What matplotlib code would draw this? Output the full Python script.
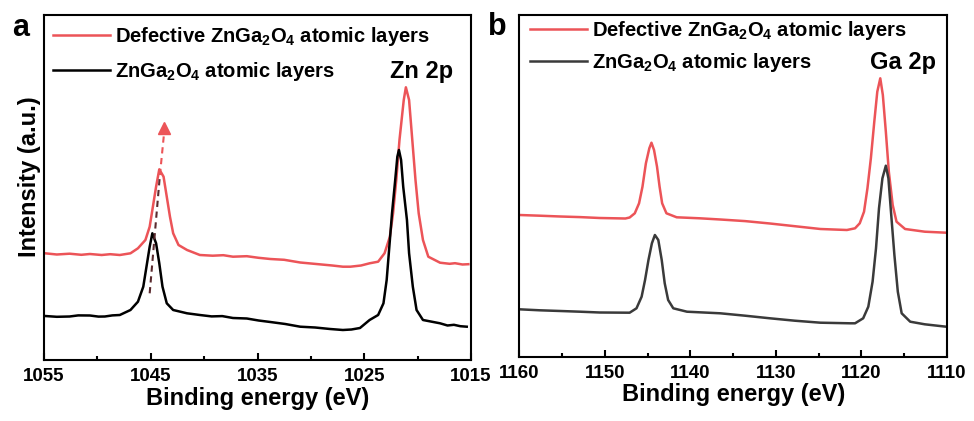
import matplotlib.pyplot as plt
from matplotlib.ticker import MultipleLocator

plt.rcParams['font.family'] = ['Liberation Sans', 'DejaVu Sans']
plt.rcParams['font.weight'] = 'bold'
plt.rcParams['mathtext.fontset'] = 'custom'
plt.rcParams['mathtext.rm'] = 'Liberation Sans:bold'
plt.rcParams['mathtext.it'] = 'Liberation Sans:bold'
plt.rcParams['mathtext.bf'] = 'Liberation Sans:bold'
plt.rcParams['axes.linewidth'] = 1.5

# Zn 2p spectra (binding energy in eV, intensity in a.u.)
zn_be_def = [1054.9, 1053.8, 1052.6, 1051.5, 1050.7, 1049.6, 1048.8, 1047.9, 1046.9, 1046.2,
             1045.5, 1045.1, 1044.8, 1044.5, 1044.2, 1043.8, 1043.5, 1043.2, 1042.9, 1042.4,
             1041.6, 1040.4, 1039.2, 1038.2, 1037.3, 1036.0, 1034.9, 1033.8, 1032.5, 1031.0,
             1029.5, 1028.0, 1027.0, 1026.3, 1025.3, 1024.5, 1023.7, 1023.1, 1022.6, 1022.3,
             1022.0, 1021.7, 1021.3, 1021.1, 1020.8, 1020.5, 1020.2, 1019.9, 1019.5, 1019.0,
             1017.9, 1017.0, 1016.5, 1015.8, 1015.25]
zn_int_def = [106.7, 105.5, 106.3, 105.2, 106.0, 105.0, 105.8, 105.0, 106.7, 111.7,
              120.0, 133.3, 153.3, 173.3, 190.7, 183.3, 163.3, 143.3, 126.7, 115.0,
              110.0, 105.0, 104.3, 104.8, 103.3, 103.8, 102.2, 101.0, 100.2, 97.5,
              96.0, 94.5, 93.3, 93.3, 94.5, 96.7, 98.3, 106.7, 123.3, 146.7,
              180.0, 220.0, 260.0, 272.7, 260.0, 220.0, 180.0, 146.7, 120.0, 103.3,
              97.3, 96.2, 96.8, 95.5, 95.8]

zn_be_pure = [1054.9, 1053.8, 1052.6, 1051.8, 1050.7, 1049.9, 1049.3, 1048.6, 1047.9, 1046.9,
              1046.2, 1045.7, 1045.4, 1045.1, 1044.85, 1044.5, 1044.2, 1043.9, 1043.5, 1042.9,
              1041.6, 1040.4, 1039.3, 1038.3, 1037.3, 1036.0, 1034.9, 1033.8, 1032.4, 1031.0,
              1029.6, 1028.2, 1027.0, 1026.2, 1025.4, 1024.5, 1023.7, 1023.2, 1022.9, 1022.65,
              1022.4, 1022.1, 1021.9, 1021.75, 1021.55, 1021.35, 1021.0, 1020.8, 1020.45, 1020.1,
              1019.5, 1017.9, 1017.2, 1016.6, 1016.0, 1015.4]
zn_int_pure = [44.0, 43.2, 43.5, 44.6, 44.5, 43.4, 43.5, 44.6, 45.0, 50.0,
               58.3, 73.3, 93.3, 113.3, 126.7, 116.7, 96.7, 73.3, 56.7, 50.0,
               46.7, 45.0, 43.6, 43.9, 42.0, 41.5, 39.5, 38.0, 36.0, 33.3,
               32.5, 31.0, 30.0, 30.5, 32.0, 40.0, 45.0, 56.7, 80.0, 113.3,
               146.7, 180.0, 203.3, 210.0, 200.0, 173.3, 140.0, 106.7, 73.3, 50.0,
               40.0, 36.7, 34.5, 35.2, 33.8, 33.3]

# Ga 2p spectra
ga_be_def = [1160.0, 1157.6, 1155.2, 1152.9, 1150.6, 1147.6, 1147.1, 1146.5, 1146.0, 1145.6,
             1145.2, 1144.8, 1144.55, 1144.25, 1143.9, 1143.6, 1143.3, 1142.8, 1141.6, 1138.9,
             1136.5, 1133.6, 1130.7, 1127.8, 1124.8, 1121.7, 1120.75, 1120.2, 1119.7, 1119.3,
             1118.9, 1118.5, 1118.15, 1117.8, 1117.5, 1117.15, 1116.8, 1116.35, 1115.9, 1114.9,
             1112.6, 1110.1]
ga_int_def = [141.7, 141.0, 140.2, 139.6, 138.7, 138.2, 139.2, 143.4, 153.4, 170.0,
              193.4, 208.4, 214.0, 206.7, 190.0, 170.0, 153.4, 143.4, 139.4, 138.4,
              137.2, 135.6, 133.2, 130.5, 127.7, 126.7, 128.4, 133.4, 145.0, 168.4,
              198.4, 235.0, 265.0, 278.4, 261.7, 225.0, 185.0, 151.7, 135.0, 127.7,
              125.0, 124.0]

ga_be_pure = [1160.0, 1157.6, 1155.2, 1152.9, 1150.6, 1147.1, 1146.3, 1145.7, 1145.3, 1144.9,
              1144.5, 1144.15, 1143.75, 1143.35, 1143.0, 1142.6, 1142.0, 1140.4, 1136.5, 1133.6,
              1130.7, 1127.8, 1124.8, 1121.3, 1120.75, 1119.8, 1119.2, 1118.7, 1118.3, 1117.95,
              1117.55, 1117.15, 1116.85, 1116.55, 1116.15, 1115.75, 1115.3, 1114.3, 1112.6, 1110.1]
ga_int_pure = [47.4, 46.4, 45.7, 45.0, 44.2, 44.0, 48.4, 60.0, 76.7, 96.7,
               113.4, 121.7, 116.7, 96.7, 73.4, 56.7, 48.4, 45.0, 43.4, 41.0,
               38.4, 36.0, 34.0, 33.4, 33.4, 38.4, 50.0, 75.0, 108.4, 148.4,
               178.4, 191.0, 178.4, 145.0, 101.7, 65.0, 43.4, 35.0, 32.4, 30.0]

# shift guide between the two Zn 2p3/2 peaks
shift_be = [1045.1, 1043.76]
shift_int = [66.7, 232.0]

zn_ticks = [1055, 1045, 1035, 1025, 1015]
ga_ticks = [1160, 1150, 1140, 1130, 1120, 1110]

red = '#ec5458'
label_def = 'Defective ZnGa$_2$O$_4$ atomic layers'
label_pure = 'ZnGa$_2$O$_4$ atomic layers'

fig = plt.figure(figsize=(9.74, 4.21), dpi=100)
ax1 = fig.add_axes([44 / 974, 1 - 360 / 421, 427 / 974, 345 / 421])
ax2 = fig.add_axes([519.3 / 974, 1 - 356.7 / 421, 427.7 / 974, 341.7 / 421])

ax1.plot(zn_be_def, zn_int_def, color=red, lw=1.8, label=label_def)
ax1.plot(zn_be_pure, zn_int_pure, color='black', lw=1.8, label=label_pure)
ax2.plot(ga_be_def, ga_int_def, color=red, lw=1.8, label=label_def)
ax2.plot(ga_be_pure, ga_int_pure, color='#3a3a3a', lw=1.8, label=label_pure)

# dashed arrow: dark below the red peak, red above it
frac = (185 - shift_int[0]) / (shift_int[1] - shift_int[0])
mid_be = shift_be[0] + frac * (shift_be[1] - shift_be[0])
ax1.plot([shift_be[0], mid_be], [shift_int[0], 185], ls=(0, (3, 2.2)), color='#5a2a2e', lw=1.5)
ax1.plot([mid_be, shift_be[1]], [185, shift_int[1] - 6], ls=(0, (3, 2.2)), color=red, lw=1.5)
ax1.plot([shift_be[1]], [shift_int[1]], marker='^', ms=9, color=red, mec=red)

for ax, ticks, top in ((ax1, zn_ticks, 345), (ax2, ga_ticks, 341.7)):
    ax.set_xlim(ticks[0], ticks[-1])
    ax.set_ylim(0, top)
    ax.set_xticks(ticks)
    ax.set_xticklabels([str(t) for t in ticks])
    ax.xaxis.set_minor_locator(MultipleLocator(5))
    ax.tick_params(axis='x', which='major', direction='in', length=5, width=1.5,
                   labelsize=13.5, pad=6)
    ax.tick_params(axis='x', which='minor', direction='in', length=3, width=1.5)
    ax.set_yticks([])
    ax.set_xlabel('Binding energy (eV)', fontsize=17, fontweight='bold', labelpad=1)

ax1.set_ylabel('Intensity (a.u.)', fontsize=17, fontweight='bold')
ax1.yaxis.set_label_coords(-0.008, 0.53)

ax1.legend(loc='upper left', bbox_to_anchor=(0.021, 0.97), frameon=False, borderaxespad=0,
           borderpad=0, handlelength=2.83, handletextpad=0.25, labelspacing=0.6,
           prop={'size': 14.5, 'weight': 'bold'})
ax2.legend(loc='upper left', bbox_to_anchor=(0.025, 0.988), frameon=False, borderaxespad=0,
           borderpad=0, handlelength=2.83, handletextpad=0.25, labelspacing=0.45,
           prop={'size': 14.5, 'weight': 'bold'})

ax1.text(0.885, 0.835, 'Zn 2p', transform=ax1.transAxes, fontsize=17, fontweight='bold',
         ha='center', va='center')
ax2.text(0.897, 0.86, 'Ga 2p', transform=ax2.transAxes, fontsize=17, fontweight='bold',
         ha='center', va='center')

fig.text(12 / 974, 1 - 36 / 421, 'a', fontsize=22, fontweight='bold', va='baseline')
fig.text(488 / 974, 1 - 35 / 421, 'b', fontsize=22, fontweight='bold', va='baseline')

fig.savefig('out.png', dpi=100)
